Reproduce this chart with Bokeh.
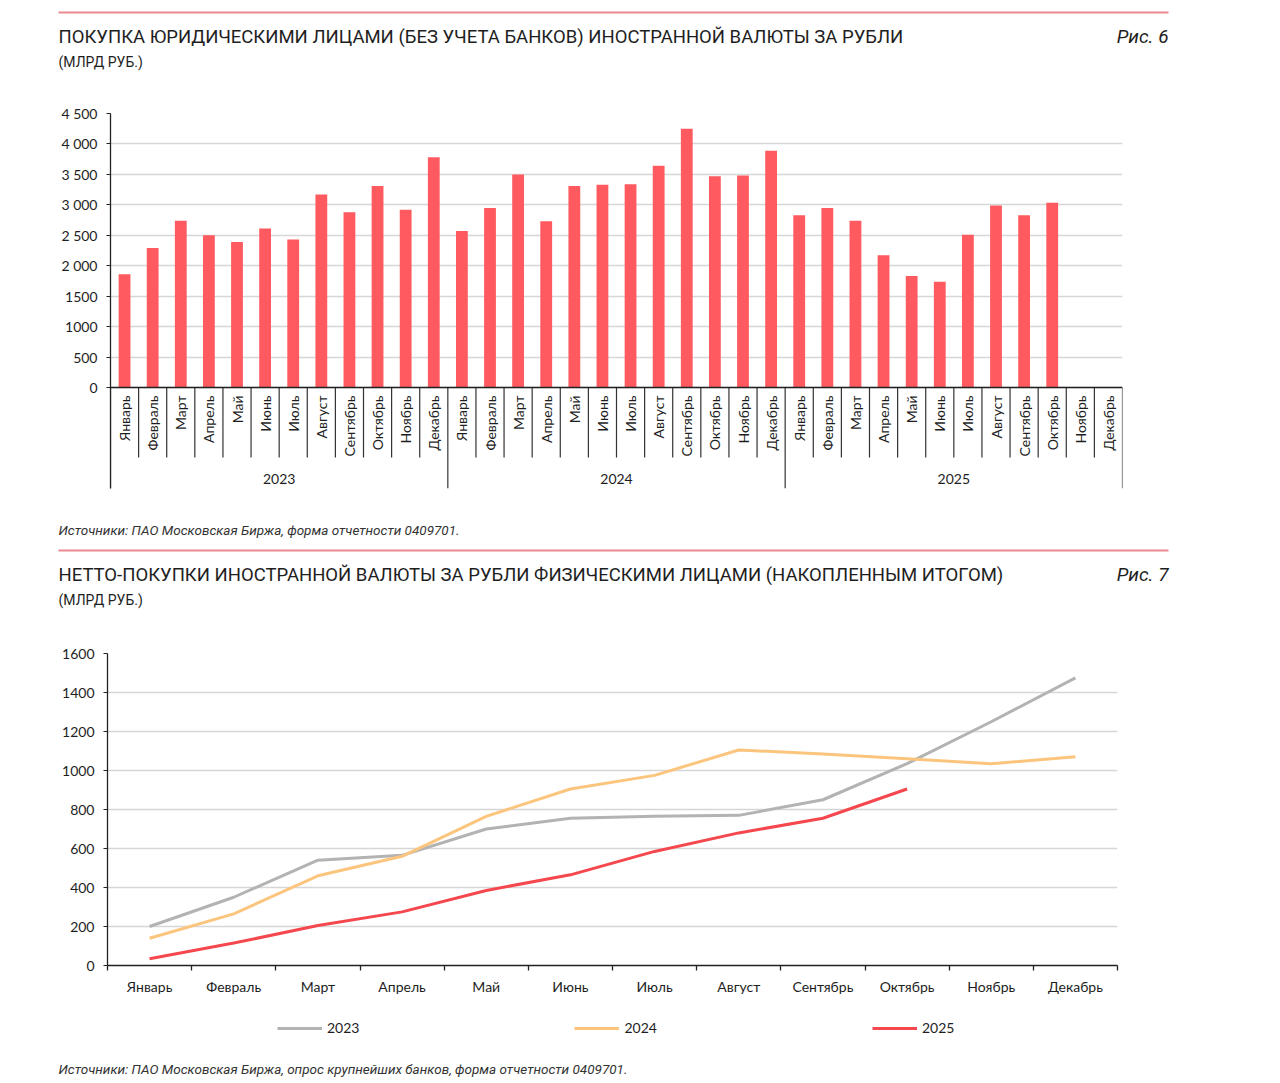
import math
from bokeh.plotting import figure
from bokeh.models import (Range1d, FactorRange, ColumnDataSource, FixedTicker, Span,
                          Legend, LegendItem)
from bokeh.layouts import column
from bokeh.core.properties import value
from bokeh.embed import file_html
from bokeh.resources import INLINE

# ---------------- data ----------------
years = ["2023", "2024", "2025"]
months = ["Январь", "Февраль", "Март", "Апрель", "Май", "Июнь", "Июль",
          "Август", "Сентябрь", "Октябрь", "Ноябрь", "Декабрь"]

corp_2023 = [1860, 2290, 2740, 2500, 2390, 2610, 2430, 3170, 2880, 3310, 2920, 3780]
corp_2024 = [2570, 2950, 3500, 2730, 3310, 3330, 3340, 3640, 4250, 3470, 3480, 3890]
corp_2025 = [2830, 2950, 2740, 2170, 1830, 1735, 2510, 2990, 2830, 3035]

bar_ticks = [0, 500, 1000, 1500, 2000, 2500, 3000, 3500, 4000, 4500]
bar_tick_labels = ["0", "500", "1000", "1500", "2 000", "2 500", "3 000", "3 500", "4 000", "4 500"]

ind_2023 = [200, 350, 540, 565, 700, 755, 765, 770, 850, 1035, 1250, 1475]
ind_2024 = [140, 265, 460, 560, 765, 905, 975, 1105, 1085, 1060, 1035, 1070]
ind_2025 = [35, 115, 205, 275, 385, 465, 585, 680, 755, 905]

line_ticks = [0, 200, 400, 600, 800, 1000, 1200, 1400, 1600]

title1 = "ПОКУПКА ЮРИДИЧЕСКИМИ ЛИЦАМИ (БЕЗ УЧЕТА БАНКОВ) ИНОСТРАННОЙ ВАЛЮТЫ ЗА РУБЛИ"
title2 = "НЕТТО-ПОКУПКИ ИНОСТРАННОЙ ВАЛЮТЫ ЗА РУБЛИ ФИЗИЧЕСКИМИ ЛИЦАМИ (НАКОПЛЕННЫМ ИТОГОМ)"
subtitle = "(МЛРД РУБ.)"
fig6 = "Рис. 6"
fig7 = "Рис. 7"
source1 = "Источники: ПАО Московская Биржа, форма отчетности 0409701."
source2 = "Источники: ПАО Московская Биржа, опрос крупнейших банков, форма отчетности 0409701."

# ---------------- styles ----------------
W = 1276
TFONT = value("Roboto")
FONT = "Lato"
RULE = "#ea8a90"
TXT = "#1e1e1e"
BAR = "#fe5a5f"
C23, C24, C25 = "#b3b3b3", "#fcc57e", "#f5474e"
GRID = "#d6d6d6"
LEFT, RIGHT = 58, 1168


def deco(h):
    f = figure(width=W, height=h, x_range=Range1d(0, W), y_range=Range1d(h, 0),
               output_backend="svg", toolbar_location=None, frame_align=False,
               x_axis_location=None, y_axis_location=None, min_border=0,
               outline_line_color=None)
    for g in f.grid:
        g.visible = False
    return f


def header(f, y0, title, fig):
    f.segment(x0=[LEFT], y0=[y0], x1=[RIGHT], y1=[y0], line_color=RULE, line_width=2)
    f.text(x=[LEFT], y=[y0 + 24], text=[title], text_font=TFONT, text_font_size="18.5px",
           text_baseline="middle", text_color=TXT)
    f.text(x=[RIGHT], y=[y0 + 24], text=[fig], text_font=TFONT, text_font_size="19px",
           text_font_style="italic", text_align="right", text_baseline="middle",
           text_color=TXT)
    f.text(x=[LEFT], y=[y0 + 49], text=[subtitle], text_font=TFONT, text_font_size="14px",
           text_baseline="middle", text_color=TXT)


# ---------------- header 1 ----------------
h1 = deco(100)
header(h1, 12, title1, fig6)

# ---------------- bar chart ----------------
BH = 400
frame_top, frame_bot = 13, 12
frame_h = BH - frame_top - frame_bot          # 375
zero_px = 274                                   # px from frame top to 0
upp = 4500 / zero_px                            # data units per px
y_start = -(frame_h - zero_px) * upp

factors = [(y, m) for y in years for m in months]
corp_vals = {"2023": corp_2023, "2024": corp_2024, "2025": corp_2025}
bx, btop = [], []
for y in years:
    for m, v in zip(months, corp_vals[y]):
        bx.append((y, m))
        btop.append(v)

bar = figure(width=W, height=BH,
             x_range=FactorRange(*factors, factor_padding=0, group_padding=0,
                                 subgroup_padding=0, range_padding=0),
             y_range=Range1d(y_start, 4500),
             output_backend="svg", toolbar_location=None, x_axis_location=None,
             frame_align=False,
             min_border_left=110, min_border_right=W - 1122,
             min_border_top=frame_top, min_border_bottom=frame_bot,
             outline_line_color=None)
bar.vbar(x="x", top="top", width=0.42, source=ColumnDataSource(dict(x=bx, top=btop)),
         fill_color=BAR, line_color=None)

bar.yaxis.ticker = FixedTicker(ticks=bar_ticks)
bar.yaxis.major_label_overrides = {t: l for t, l in zip(bar_ticks, bar_tick_labels)}
bar.yaxis.axis_line_color = "#222222"
bar.yaxis.axis_line_width = 1.3
bar.yaxis.major_tick_out = 4
bar.yaxis.major_tick_in = 0
bar.yaxis.major_tick_line_color = "#222222"
bar.yaxis.minor_tick_line_color = None
bar.yaxis.major_label_standoff = 9
bar.yaxis.major_label_text_font = FONT
bar.yaxis.major_label_text_font_size = "14px"
bar.yaxis.major_label_text_color = TXT
bar.ygrid.grid_line_color = GRID
bar.ygrid.grid_line_width = 1.5
bar.xgrid.visible = False

bar.add_layout(Span(location=0, dimension="width", line_color="#222222", line_width=1.3))

# month separators and year separators
sx, sy1 = [], []
for y in years:
    for i, m in enumerate(months):
        sx.append((y, m, -0.5))
        sy1.append(y_start if i == 0 else -70 * upp)
sx.append((years[-1], months[-1], 0.5))
sy1.append(y_start)
bar.segment(x0="x", y0=0, x1="x", y1="y1", source=ColumnDataSource(dict(x=sx, y1=sy1)),
            line_color="#333333", line_width=1.2)

bar.text(x="x", y=-8 * upp, text="t", source=ColumnDataSource(dict(x=factors, t=[f[1] for f in factors])),
         angle=math.pi / 2, text_align="right", text_baseline="middle",
         text_font=value(FONT), text_font_size="14px", text_color=TXT)
bar.text(x="x", y=-91 * upp, text="t",
         source=ColumnDataSource(dict(x=[(y, months[5], 0.5) for y in years], t=years)),
         text_align="center", text_baseline="middle",
         text_font=value(FONT), text_font_size="14px", text_color=TXT)

# ---------------- middle deco ----------------
mid = deco(140)
mid.text(x=[LEFT], y=[29], text=[source1], text_font=TFONT, text_font_size="13.5px",
         text_font_style="italic", text_baseline="middle", text_color="#333333")
header(mid, 50, title2, fig7)

# ---------------- line chart ----------------
LH = 370
line = figure(width=W, height=LH, x_range=Range1d(0, len(months)), y_range=Range1d(0, 1600),
              output_backend="svg", toolbar_location=None, frame_align=False,
              min_border_left=107, min_border_right=W - 1117, min_border_top=13,
              min_border_bottom=LH - 13 - 312, outline_line_color=None)

r23 = line.line(x=[i + 0.5 for i in range(len(ind_2023))], y=ind_2023, line_color=C23, line_width=3)
r24 = line.line(x=[i + 0.5 for i in range(len(ind_2024))], y=ind_2024, line_color=C24, line_width=3)
r25 = line.line(x=[i + 0.5 for i in range(len(ind_2025))], y=ind_2025, line_color=C25, line_width=3)

line.yaxis.ticker = FixedTicker(ticks=line_ticks)
line.xaxis.ticker = FixedTicker(ticks=[i + 0.5 for i in range(len(months))],
                                minor_ticks=list(range(len(months) + 1)))
line.xaxis.major_label_overrides = {i + 0.5: m for i, m in enumerate(months)}
for ax in (line.xaxis, line.yaxis):
    ax.axis_line_color = "#222222"
    ax.axis_line_width = 1.3
    ax.major_tick_line_color = "#222222"
    ax.major_label_text_font = FONT
    ax.major_label_text_font_size = "14px"
    ax.major_label_text_color = TXT
line.yaxis.major_tick_out = 4
line.yaxis.major_tick_in = 0
line.yaxis.minor_tick_line_color = None
line.yaxis.major_label_standoff = 9
line.xaxis.major_tick_out = 0
line.xaxis.major_tick_in = 0
line.xaxis.minor_tick_out = 5
line.xaxis.minor_tick_in = 0
line.xaxis.minor_tick_line_color = "#222222"
line.xaxis.minor_tick_line_width = 1.3
line.xaxis.major_label_standoff = 7
line.ygrid.grid_line_color = GRID
line.ygrid.grid_line_width = 1.5
line.xgrid.visible = False

# ---------------- footer with legend ----------------
FH = 68
foot = deco(FH)
l23 = foot.line(x=[-20, -10], y=[-20, -20], line_color=C23, line_width=3)
l24 = foot.line(x=[-20, -10], y=[-20, -20], line_color=C24, line_width=3)
l25 = foot.line(x=[-20, -10], y=[-20, -20], line_color=C25, line_width=3)
legend = Legend(items=[LegendItem(label=years[0], renderers=[l23]),
                       LegendItem(label=years[1], renderers=[l24]),
                       LegendItem(label=years[2], renderers=[l25])],
                orientation="horizontal", location=(277, FH - 26), spacing=215,
                glyph_width=45, glyph_height=12, label_standoff=5,
                label_text_font=FONT, label_text_font_size="14px", label_text_color=TXT,
                border_line_color=None, background_fill_alpha=0, padding=0, margin=0)
foot.add_layout(legend)
foot.text(x=[LEFT], y=[58], text=[source2], text_font=TFONT, text_font_size="13.5px",
          text_font_style="italic", text_baseline="middle", text_color="#333333")

page = column(h1, bar, mid, line, foot, spacing=0)
open("out.html", "w").write(file_html(page, INLINE))
